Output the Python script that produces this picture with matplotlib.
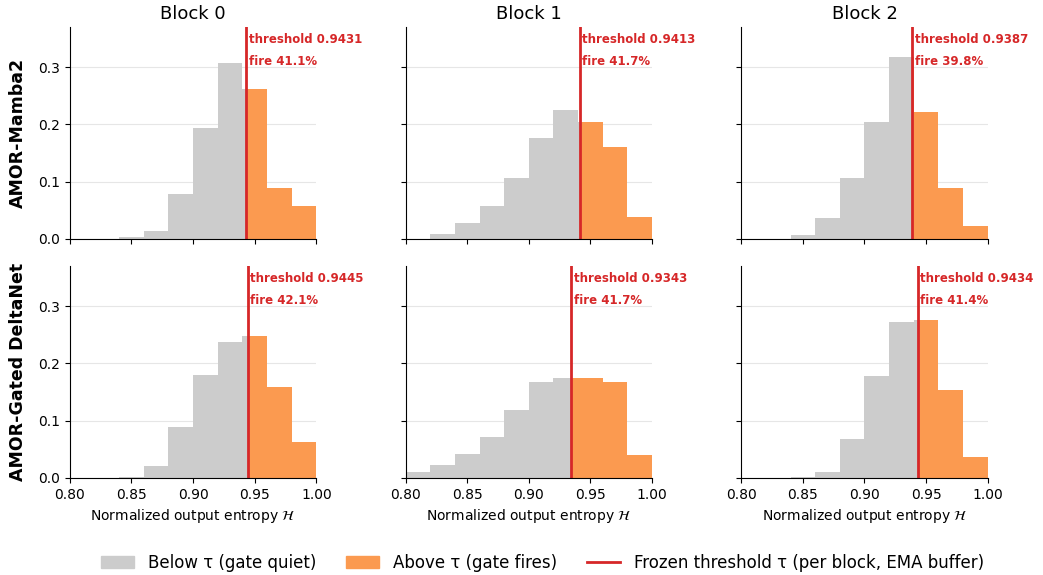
"""Entropy histograms per block with frozen gate thresholds."""
import matplotlib
matplotlib.use("Agg")
import matplotlib.pyplot as plt
from matplotlib.patches import Patch
from matplotlib.lines import Line2D

bin_edges = [0.80, 0.82, 0.84, 0.86, 0.88, 0.90, 0.92, 0.94, 0.96, 0.98, 1.00]
models = ["AMOR-Mamba2", "AMOR-Gated DeltaNet"]
blocks = ["Block 0", "Block 1", "Block 2"]

# fraction of tokens per bin, rows = model, cols = block
mamba2_b0 = [0.000, 0.000, 0.003, 0.014, 0.078, 0.193, 0.307, 0.261, 0.088, 0.058]
mamba2_b1 = [0.000, 0.009, 0.027, 0.057, 0.106, 0.177, 0.225, 0.204, 0.160, 0.039]
mamba2_b2 = [0.000, 0.000, 0.007, 0.036, 0.106, 0.204, 0.318, 0.221, 0.088, 0.023]
delta_b0 = [0.000, 0.000, 0.002, 0.021, 0.088, 0.180, 0.238, 0.247, 0.158, 0.063]
delta_b1 = [0.010, 0.022, 0.042, 0.072, 0.118, 0.167, 0.174, 0.174, 0.167, 0.040]
delta_b2 = [0.000, 0.000, 0.001, 0.010, 0.068, 0.178, 0.273, 0.276, 0.153, 0.036]
hists = [[mamba2_b0, mamba2_b1, mamba2_b2], [delta_b0, delta_b1, delta_b2]]

thresholds = [[0.9431, 0.9413, 0.9387], [0.9445, 0.9343, 0.9434]]
fire_rates = [[41.1, 41.7, 39.8], [42.1, 41.7, 41.4]]

GRAY = "#cccccc"
ORANGE = "#fb9a50"
RED = "#d62728"

fig, axes = plt.subplots(2, 3, figsize=(10.43, 5.75), dpi=100, sharex=True, sharey=True)
fig.subplots_adjust(left=0.067, right=0.947, top=0.953, bottom=0.169,
                    wspace=0.362, hspace=0.128)

for r in range(2):
    for c in range(3):
        ax = axes[r, c]
        h = hists[r][c]
        thr = thresholds[r][c]
        for i, val in enumerate(h):
            lo, hi = bin_edges[i], bin_edges[i + 1]
            if hi <= thr:
                ax.bar(lo, val, width=hi - lo, align="edge", color=GRAY, lw=0)
            elif lo >= thr:
                ax.bar(lo, val, width=hi - lo, align="edge", color=ORANGE, lw=0)
            else:
                ax.bar(lo, val, width=thr - lo, align="edge", color=GRAY, lw=0)
                ax.bar(thr, val, width=hi - thr, align="edge", color=ORANGE, lw=0)
        ax.axvline(thr, color=RED, lw=2)
        trans = ax.get_xaxis_transform()
        ax.text(thr + 0.002, 0.97, f"threshold {thr:.4f}", transform=trans,
                color=RED, fontsize=8.5, fontweight="bold", va="top", ha="left")
        ax.text(thr + 0.002, 0.87, f"fire {fire_rates[r][c]:.1f}%", transform=trans,
                color=RED, fontsize=8.5, fontweight="bold", va="top", ha="left")
        ax.set_xlim(0.80, 1.00)
        ax.set_ylim(0, 0.37)
        ax.set_xticks([0.80, 0.85, 0.90, 0.95, 1.00])
        ax.set_yticks([0.0, 0.1, 0.2, 0.3])
        ax.yaxis.grid(True, color="#e6e6e6", lw=0.8)
        ax.set_axisbelow(True)
        ax.spines["top"].set_visible(False)
        ax.spines["right"].set_visible(False)
        if r == 0:
            ax.set_title(blocks[c], fontsize=13)
        if r == 1:
            ax.set_xlabel(r"Normalized output entropy $\mathcal{H}$", fontsize=10)
            ax.tick_params(axis="x", labelbottom=True)
        if c == 0:
            ax.set_ylabel(models[r], fontsize=12.5, fontweight="bold", labelpad=8)

handles = [
    Patch(color=GRAY, label="Below τ (gate quiet)"),
    Patch(color=ORANGE, label="Above τ (gate fires)"),
    Line2D([0], [0], color=RED, lw=2, label="Frozen threshold τ (per block, EMA buffer)"),
]
fig.legend(handles=handles, loc="center", bbox_to_anchor=(0.52, 0.021), ncol=3,
           frameon=False, fontsize=12, columnspacing=1.8)

fig.savefig("out.png", dpi=100)
